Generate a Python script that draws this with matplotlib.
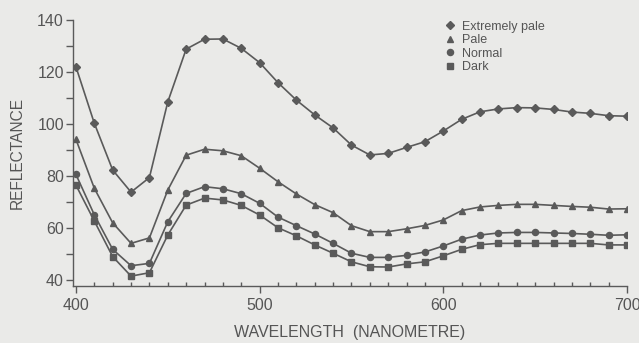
import matplotlib.pyplot as plt
from matplotlib.lines import Line2D
import numpy as np

# wavelengths, nm
wavelength = list(range(400, 701, 10))

# reflectance
extremely_pale = [122, 100.3, 82.3, 73.8, 79.4, 108.5, 128.8, 132.6, 132.7, 129.1,
                  123.6, 115.9, 109.2, 103.5, 98.5, 91.9, 88.1, 88.7, 91.0, 93.2,
                  97.3, 101.8, 104.7, 105.8, 106.3, 106.2, 105.6, 104.6, 104.1, 103.2, 103.0]
pale = [94.1, 75.3, 62.0, 54.1, 56.2, 74.6, 88.0, 90.3, 89.7, 87.8,
        83.0, 77.8, 73.1, 69.0, 65.9, 60.9, 58.6, 58.6, 59.7, 61.0,
        63.1, 66.7, 68.1, 68.7, 69.1, 69.1, 68.7, 68.3, 68.0, 67.3, 67.4]
normal = [80.6, 65.1, 51.8, 45.5, 46.4, 62.4, 73.3, 75.9, 75.1, 73.2,
          69.5, 64.2, 60.9, 57.7, 54.1, 50.3, 48.7, 48.7, 49.5, 50.8,
          53.1, 55.7, 57.3, 58.1, 58.3, 58.3, 58.1, 57.9, 57.6, 57.2, 57.4]
dark = [76.5, 62.7, 49.0, 41.5, 42.8, 57.3, 68.8, 71.5, 70.8, 68.7,
        65.0, 60.1, 57.0, 53.5, 50.3, 47.0, 45.1, 45.0, 46.2, 47.0,
        49.3, 51.8, 53.6, 54.1, 54.1, 54.1, 54.1, 54.1, 54.1, 53.5, 53.5]

series = [("Extremely pale", extremely_pale, "D"),
          ("Pale", pale, "^"),
          ("Normal", normal, "o"),
          ("Dark", dark, "s")]

bg = "#eaeae8"
ink = "#5a5a5a"
txt = "#555555"

plt.rcParams['font.family'] = ['Liberation Sans', 'DejaVu Sans']

fig = plt.figure(figsize=(6.39, 3.43), dpi=100, facecolor=bg)
ax = fig.add_axes([73 / 639, 57 / 343, 554 / 639, 266 / 343])
ax.set_facecolor(bg)

for name, vals, mk in series:
    ax.plot(wavelength, vals, color=ink, lw=1.2, marker=mk,
            ms=4.4 if mk != "D" else 4.0, mfc=ink, mec=ink)

ax.set_xlim(398.4, 700)
ax.set_ylim(37.7, 140)

for s in ["top", "right"]:
    ax.spines[s].set_visible(False)
for s in ["left", "bottom"]:
    ax.spines[s].set_color(ink)
    ax.spines[s].set_linewidth(1.0)
ax.spines["left"].set_bounds(37.7, 140)

ax.set_xticks([400, 500, 600, 700])
ax.set_xticks(range(410, 700, 10), minor=True)
ax.set_yticks(range(40, 141, 20))
ax.set_yticks(range(50, 140, 20), minor=True)

ax.tick_params(axis="x", which="major", direction="out", length=5, width=1,
               color=ink, labelcolor=txt, labelsize=11.5, pad=4)
ax.tick_params(axis="x", which="minor", direction="in", length=3, width=1, color=ink)
ax.tick_params(axis="y", which="both", direction="out", length=5, width=1,
               color=ink, labelcolor=txt, labelsize=11.5, pad=1.5)

fig.text(350 / 639, 1 - 333 / 343, "WAVELENGTH  (NANOMETRE)", ha="center", va="center",
         color=txt, fontsize=11.5)
fig.text(17 / 639, 1 - 153 / 343, "REFLECTANCE", ha="center", va="center",
         rotation=90, color=txt, fontsize=11.2)

handles = [Line2D([], [], ls="none", marker=mk, color=ink, ms=4.4 if mk != "D" else 4.0)
           for _, _, mk in series]
labels = [n for n, _, _ in series]
ax.legend(handles, labels, loc="upper left", bbox_to_anchor=(0.655, 1.03), frameon=False,
          fontsize=9, labelcolor=txt, handlelength=0.8, handletextpad=0.6,
          labelspacing=0.12, borderpad=0.2)

fig.savefig("out.png", dpi=100, facecolor=bg)
